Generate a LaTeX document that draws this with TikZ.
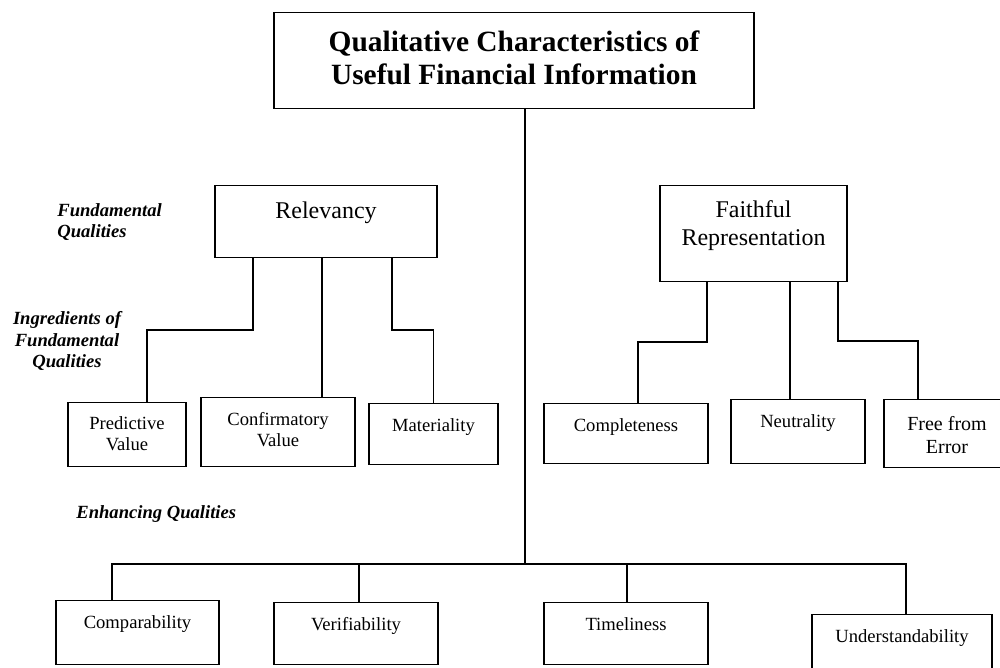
\documentclass[tikz,border=0pt]{standalone}
\usepackage{fontspec}
\setmainfont{Liberation Serif}
\begin{document}
\begin{tikzpicture}[
    x=0.5pt, y=-0.5pt,
    qbox/.style={draw, line width=0.6pt, inner sep=0pt, anchor=north},
    intxt/.style={anchor=north, align=center, inner sep=0pt, yshift=-#1,
        font=\fontsize{9.3}{10.5}\selectfont},
    intxt/.default=7.5pt,
    side/.style={inner sep=0pt, font=\fontsize{9.3}{10.8}\selectfont\bfseries\itshape},
    link/.style={draw, line width=0.8pt}
]
\useasboundingbox (0,0) rectangle (1000,668);

\node[qbox, minimum width=240pt, minimum height=48pt,
    label={[intxt=9pt, font=\fontsize{14.7}{16.5}\selectfont\bfseries]north:Qualitative Characteristics of\\Useful Financial Information}] (title) at (514,12) {};

\node[side, anchor=north west, align=left] (fundq) at (57,203) {Fundamental\\Qualities};
\node[side, anchor=north, align=center] (ingrq) at (67,311) {Ingredients of\\Fundamental\\Qualities};
\node[side, anchor=base west] (enhq) at (76,518) {Enhancing Qualities};

\node[qbox, minimum width=111pt, minimum height=36pt,
    label={[intxt=8pt, font=\fontsize{12}{14}\selectfont]north:Relevancy}] (rel) at (326,185) {};
\node[qbox, minimum width=93.5pt, minimum height=48pt,
    label={[intxt, font=\fontsize{12}{14}\selectfont]north:Faithful\\Representation}] (faith) at (753.5,185) {};

\node[qbox, minimum width=59pt, minimum height=32pt,
    label={[intxt=7pt]north:Predictive\\Value}] (pred) at (127,402) {};
\node[qbox, minimum width=77pt, minimum height=34.5pt,
    label={[intxt]north:Confirmatory\\Value}] (conf) at (278,397) {};
\node[qbox, minimum width=64.5pt, minimum height=30.5pt,
    label={[intxt]north:Materiality}] (mat) at (433.5,403) {};
\node[qbox, minimum width=82pt, minimum height=30pt,
    label={[intxt]north:Completeness}] (compl) at (626,403) {};
\node[qbox, minimum width=67pt, minimum height=32pt,
    label={[intxt]north:Neutrality}] (neut) at (798,399) {};
\node[qbox, minimum width=63pt, minimum height=34pt,
    label={[intxt=8.7pt, font=\fontsize{10}{11.3}\selectfont]north:Free from\\Error}] (free) at (947,399) {};

\node[qbox, minimum width=81.5pt, minimum height=32pt,
    label={[intxt]north:Comparability}] (comp) at (137.5,600) {};
\node[qbox, minimum width=82pt, minimum height=31pt,
    label={[intxt]north:Verifiability}] (verif) at (356,602) {};
\node[qbox, minimum width=82pt, minimum height=31pt,
    label={[intxt]north:Timeliness}] (time) at (626,602) {};
\node[qbox, minimum width=90pt, minimum height=33pt,
    label={[intxt]north:Understandability}] (und) at (902,614) {};

\coordinate (bus) at (525,564);
\draw[link] (title.south -| bus) -- (bus);
\draw[link] ([xshift=-12.75pt]comp.north) |- (bus) -| ([xshift=2pt]und.north);
\draw[link] ([xshift=1.5pt]verif.north) -- ++(0,-38);
\draw[link] ([xshift=0.5pt]time.north) -- ++(0,-38);

\draw[link] ([xshift=-36.5pt]rel.south) -- ++(0,72) -| ([xshift=10pt]pred.north);
\draw[link] ([xshift=-2pt]rel.south) -- ([xshift=22pt]conf.north);
\draw[link] ([xshift=33pt]rel.south) -- ++(0,72) -| (mat.north);

\draw[link] ([xshift=-23.25pt]faith.south) -- ++(0,60) -| ([xshift=6pt]compl.north);
\draw[link] ([xshift=18.25pt]faith.south) -- ([xshift=-4pt]neut.north);
\draw[link] ([xshift=42.25pt]faith.south) -- ++(0,59) -| ([xshift=-14.5pt]free.north);
\end{tikzpicture}
\end{document}
